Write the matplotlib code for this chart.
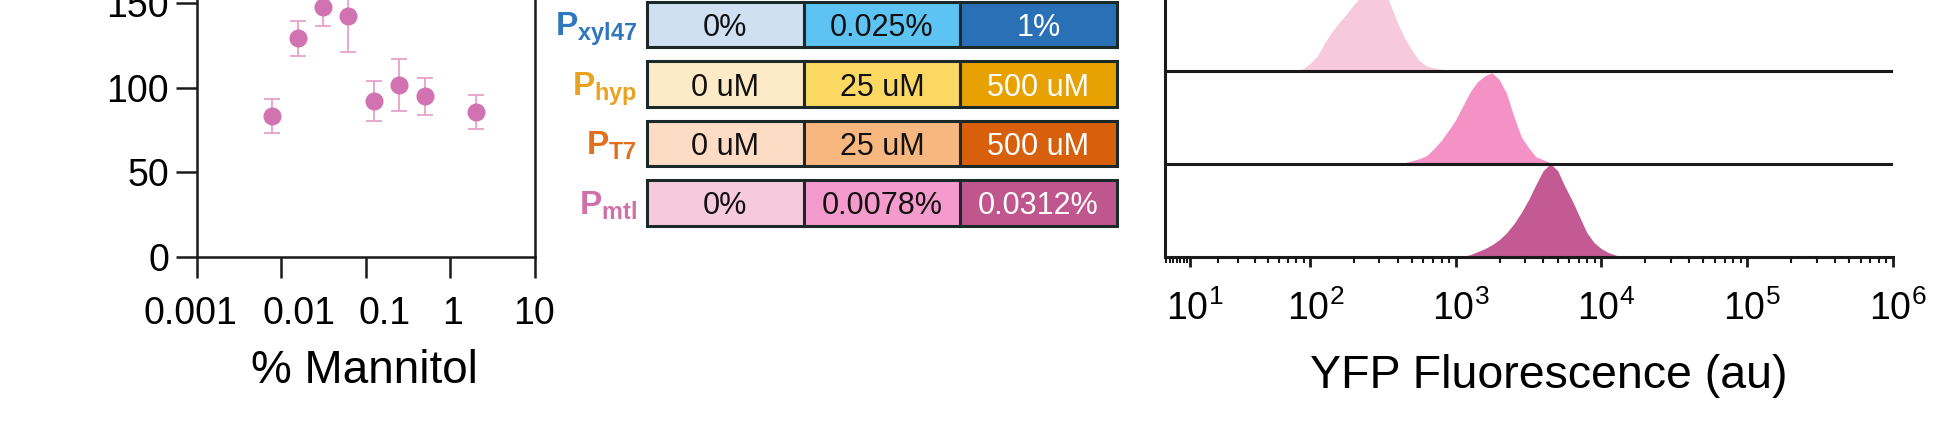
import numpy as np
import matplotlib
matplotlib.use('Agg')
import matplotlib.pyplot as plt
from matplotlib.patches import Rectangle
from matplotlib.ticker import FixedLocator, FixedFormatter, NullLocator
from matplotlib.transforms import ScaledTranslation

plt.rcParams['font.family'] = ['Liberation Sans', 'DejaVu Sans']
plt.rcParams['mathtext.fontset'] = 'custom'
plt.rcParams['mathtext.rm'] = 'Liberation Sans'
plt.rcParams['mathtext.bf'] = 'Liberation Sans:bold'
plt.rcParams['mathtext.it'] = 'Liberation Sans:italic'

# ---------------- data ----------------
mannitol_pct = [0.0078, 0.0156, 0.03125, 0.0625, 0.125, 0.25, 0.5, 2.0]
response = [83.2, 129.1, 147.4, 142.3, 92.1, 101.4, 94.9, 85.6]
response_err = [10.0, 10.4, 11.0, 21.5, 12.0, 15.4, 11.0, 10.0]
mannitol_ticks = [0.001, 0.01, 0.1, 1, 10]
mannitol_ticklabels = ['0.001', '0.01', '0.1', '1', '10']
response_ticks = [0, 50, 100, 150, 200]

promoters = ['xyl47', 'hyp', 'T7', 'mtl']
inducer_levels = [['0%', '0.025%', '1%'],
                  ['0 uM', '25 uM', '500 uM'],
                  ['0 uM', '25 uM', '500 uM'],
                  ['0%', '0.0078%', '0.0312%']]

# histograms: log10(YFP) bin centers and relative counts (mode ~1)
hist0_log = [1.85, 1.90, 1.95, 2.00, 2.05, 2.10, 2.15, 2.20, 2.25, 2.30, 2.35, 2.40,
             2.45, 2.50, 2.55, 2.60, 2.65, 2.70, 2.75, 2.80, 2.85, 2.90, 2.95]
hist0_cnt = [0.0, 0.005, 0.02, 0.08, 0.16, 0.30, 0.42, 0.52, 0.61, 0.71, 0.80, 0.90,
             0.97, 0.91, 0.72, 0.52, 0.35, 0.22, 0.11, 0.05, 0.03, 0.016, 0.0]
hist1_log = [2.55, 2.60, 2.65, 2.70, 2.75, 2.80, 2.85, 2.90, 2.95, 3.00, 3.05, 3.10,
             3.15, 3.20, 3.25, 3.30, 3.35, 3.40, 3.45, 3.50, 3.55, 3.60, 3.65, 3.70]
hist1_cnt = [0.0, 0.005, 0.011, 0.032, 0.054, 0.086, 0.161, 0.247, 0.355, 0.473, 0.624, 0.774,
             0.882, 0.946, 0.978, 0.903, 0.753, 0.505, 0.290, 0.172, 0.075, 0.043, 0.011, 0.0]
hist2_log = [3.05, 3.10, 3.15, 3.20, 3.25, 3.30, 3.35, 3.40, 3.45, 3.50, 3.55, 3.60,
             3.65, 3.70, 3.75, 3.80, 3.85, 3.90, 3.95, 4.00, 4.05, 4.10, 4.15]
hist2_cnt = [0.005, 0.022, 0.054, 0.086, 0.129, 0.183, 0.258, 0.355, 0.473, 0.613, 0.774, 0.925,
             1.0, 0.925, 0.753, 0.602, 0.430, 0.258, 0.151, 0.086, 0.043, 0.016, 0.0]
yfp_ticks = [1e1, 1e2, 1e3, 1e4, 1e5, 1e6]
yfp_ticklabels = [r'$10^{1}$', r'$10^{2}$', r'$10^{3}$', r'$10^{4}$', r'$10^{5}$', r'$10^{6}$']

# ---------------- styles ----------------
W, H = 1952, 437
marker_color = '#d273b1'
err_color = '#e6a3c9'
hist_colors = ['#f7cadb', '#f592c5', '#c45a94']
label_colors = ['#2f78bf', '#e8a320', '#e0701e', '#d070a8']
cell_colors = [['#cfe0f2', '#5cc3f3', '#2a70b6'],
               ['#fdebc8', '#fbd862', '#e7a100'],
               ['#fcdcc4', '#f9b780', '#d8600c'],
               ['#f7cadb', '#f59acc', '#bf568e']]
text_colors = ['#111111', '#111111', '#ffffff']
edge = '#1b2a28'
xlabel_shift_px = [-6.7, 17.5, 19.3, 2.0, -1.0]

fig = plt.figure(figsize=(W / 100, H / 100), dpi=100)


def fbox(x0, y0, x1, y1):
    """pixel box (x0 left, y0 top, x1 right, y1 bottom) -> figure fraction"""
    return [x0 / W, (H - y1) / H, (x1 - x0) / W, (y1 - y0) / H]


# ---------------- left: scatter with error bars ----------------
ax1 = fig.add_axes(fbox(196.7, -81.8, 534.7, 257.0))
ax1.set_xscale('log')
ax1.errorbar(mannitol_pct, response, yerr=response_err, fmt='o', color=marker_color,
             ms=12, mec=marker_color, ecolor=err_color, elinewidth=1.3, capsize=6,
             capthick=1.3, zorder=3, clip_on=False)
ax1.set_xlim(0.001, 10)
ax1.set_ylim(0, 200)
ax1.xaxis.set_major_locator(FixedLocator(mannitol_ticks))
ax1.xaxis.set_major_formatter(FixedFormatter(mannitol_ticklabels))
ax1.xaxis.set_minor_locator(NullLocator())
ax1.set_yticks(response_ticks)
for s in ['left', 'bottom', 'right']:
    ax1.spines[s].set_linewidth(1.8)
    ax1.spines[s].set_color('#1a1a1a')
ax1.spines['top'].set_visible(False)
ax1.tick_params(axis='x', which='major', direction='out', length=15, width=1.8,
                labelsize=27, pad=13, color='#1a1a1a')
ax1.tick_params(axis='y', which='major', direction='out', length=15, width=1.8,
                labelsize=27, pad=5, color='#1a1a1a', right=False)
for lab, dx in zip(ax1.get_xticklabels(), xlabel_shift_px):
    lab.set_transform(lab.get_transform() + ScaledTranslation(dx / 100, 0, fig.dpi_scale_trans))
ax1.set_xlabel('% Mannitol', fontsize=33)
ax1.xaxis.set_label_coords((364.2 - 196.7) / 338.0, (257.0 - 383.3) / 338.8)
ax1.xaxis.label.set_va('baseline')

# ---------------- right: stacked flow histograms ----------------
C = 17.5


def fwd(v):
    return np.arcsinh(np.asarray(v, dtype=float) / C) / np.log(10)


def inv(u):
    return C * np.sinh(np.asarray(u, dtype=float) * np.log(10))


ax2 = fig.add_axes(fbox(1165, 0, 1893, 256.7))
ax2.set_xscale('function', functions=(fwd, inv))
ax2.set_xlim(2.61, 1e6)
ax2.set_ylim(0, 256.7 / 93.0)
hists = [(hist0_log, hist0_cnt, 2), (hist1_log, hist1_cnt, 1), (hist2_log, hist2_cnt, 0)]
for (lg, cnt, off), col in zip(hists, hist_colors):
    xv = 10 ** np.asarray(lg)
    ax2.fill_between(xv, off, off + np.asarray(cnt), color=col, lw=0, zorder=2)
for off in [1, 2, 3]:
    ax2.axhline(off, color='#1a1a1a', lw=2.2, zorder=4)
for s in ['left', 'bottom']:
    ax2.spines[s].set_linewidth(2.2)
    ax2.spines[s].set_color('#1a1a1a')
    ax2.spines[s].set_zorder(5)
ax2.spines['top'].set_visible(False)
ax2.spines['right'].set_visible(False)
ax2.set_yticks([])
ax2.xaxis.set_major_locator(FixedLocator(yfp_ticks))
ax2.xaxis.set_major_formatter(FixedFormatter(yfp_ticklabels))
ax2.xaxis.set_minor_locator(FixedLocator([k * 10.0 ** e for e in range(0, 6) for k in range(2, 10)]))
ax2.tick_params(axis='x', which='major', direction='out', length=7, width=2,
                labelsize=27, pad=17, color='#1a1a1a')
ax2.tick_params(axis='x', which='minor', direction='out', length=4, width=1.5,
                color='#1a1a1a')
shift = ScaledTranslation(0.05, 0, fig.dpi_scale_trans)
for lab in ax2.get_xticklabels():
    lab.set_transform(lab.get_transform() + shift)
ax2.set_xlabel('YFP Fluorescence (au)', fontsize=33.5)
ax2.xaxis.set_label_coords((1548.5 - 1165) / 728.0, (256.7 - 388.3) / 256.7)
ax2.xaxis.label.set_va('baseline')

# ---------------- middle: induction table ----------------
ax0 = fig.add_axes([0, 0, 1, 1], zorder=5)
ax0.set_xlim(0, W)
ax0.set_ylim(H, 0)
ax0.axis('off')
ax0.patch.set_alpha(0)
col_edges = [646.7, 804.0, 960.0, 1116.7]
row_h = 45.5
for i, name in enumerate(promoters):
    top = 1.5 + i * 59.5
    for j in range(3):
        ax0.add_patch(Rectangle((col_edges[j], top), col_edges[j + 1] - col_edges[j], row_h,
                                fc=cell_colors[i][j], ec=edge, lw=2.2))
        ax0.text((col_edges[j] + col_edges[j + 1]) / 2, top + 34.5, inducer_levels[i][j],
                 ha='center', va='baseline', fontsize=22, color=text_colors[j])
    ax0.text(637, top + 34.5, r'$\mathbf{P}_{\mathbf{%s}}$' % name, ha='right',
             va='baseline', fontsize=24, color=label_colors[i])

fig.savefig('out.png', dpi=100)
